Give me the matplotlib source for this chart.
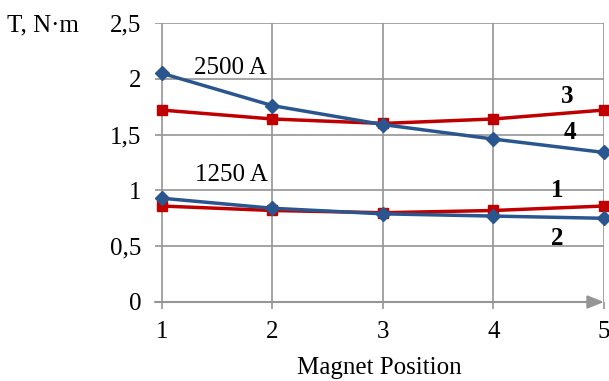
import matplotlib.pyplot as plt

# data
positions = [1, 2, 3, 4, 5]
blue_2500 = [2.05, 1.76, 1.59, 1.46, 1.34]
red_2500 = [1.72, 1.64, 1.60, 1.64, 1.72]
blue_1250 = [0.93, 0.84, 0.79, 0.77, 0.75]
red_1250 = [0.86, 0.82, 0.80, 0.82, 0.86]
yticks = [0, 0.5, 1, 1.5, 2, 2.5]
ytick_labels = ["0", "0,5", "1", "1,5", "2", "2,5"]

blue = "#2A5690"
red = "#C00000"
grey = "#959595"

plt.rcParams["font.family"] = "Liberation Serif"
fs = 18

fig = plt.figure(figsize=(6.09, 3.81), dpi=100)
ax = fig.add_axes([155 / 609, 79 / 381, 449 / 609, 279 / 381])

ax.set_xlim(0.94, 5.0)
ax.set_ylim(0, 2.5)

for s in ax.spines.values():
    s.set_visible(False)

# grid
for y in yticks[1:]:
    ax.axhline(y, color=grey, lw=1.2, zorder=0)
for x in positions:
    ax.axvline(x, color=grey, lw=1.2, zorder=0)

# x axis with arrow
ax.annotate("", xy=(5.0, 0), xytext=(0.94, 0),
            arrowprops=dict(arrowstyle="-|>,head_length=1.0,head_width=0.4",
                            color=grey, lw=1.5, shrinkA=0, shrinkB=0),
            annotation_clip=False)

ax.plot(positions, red_2500, color=red, lw=2.5, marker="s", ms=7, zorder=3, clip_on=False)
ax.plot(positions, blue_2500, color=blue, lw=2.5, marker="D", ms=7.5, zorder=4, clip_on=False)
ax.plot(positions, red_1250, color=red, lw=2.5, marker="s", ms=7, zorder=3, clip_on=False)
ax.plot(positions, blue_1250, color=blue, lw=2.5, marker="D", ms=7.5, zorder=4, clip_on=False)

ax.set_xticks(positions)
ax.set_xticklabels([str(p) for p in positions])
ax.set_yticks(yticks)
ax.set_yticklabels(ytick_labels)
ax.tick_params(axis="x", length=5, width=1.2, color=grey, labelsize=fs, pad=9)
ax.tick_params(axis="y", length=0, labelsize=fs, pad=10)

ax.set_xlabel("Magnet Position", fontsize=fs, labelpad=10)

ax.text(-0.25, 0.99, "T, N·m", transform=ax.transAxes, fontsize=fs, ha="center", va="center")

ax.text(1.62, 2.10, "2500 A", fontsize=fs, ha="center", va="center")
ax.text(1.63, 1.14, "1250 A", fontsize=fs, ha="center", va="center")

ax.text(4.67, 1.84, "3", fontsize=fs, fontweight="bold", ha="center", va="center")
ax.text(4.69, 1.52, "4", fontsize=fs, fontweight="bold", ha="center", va="center")
ax.text(4.58, 1.00, "1", fontsize=fs, fontweight="bold", ha="center", va="center")
ax.text(4.58, 0.57, "2", fontsize=fs, fontweight="bold", ha="center", va="center")

fig.savefig("out.png", dpi=100)
